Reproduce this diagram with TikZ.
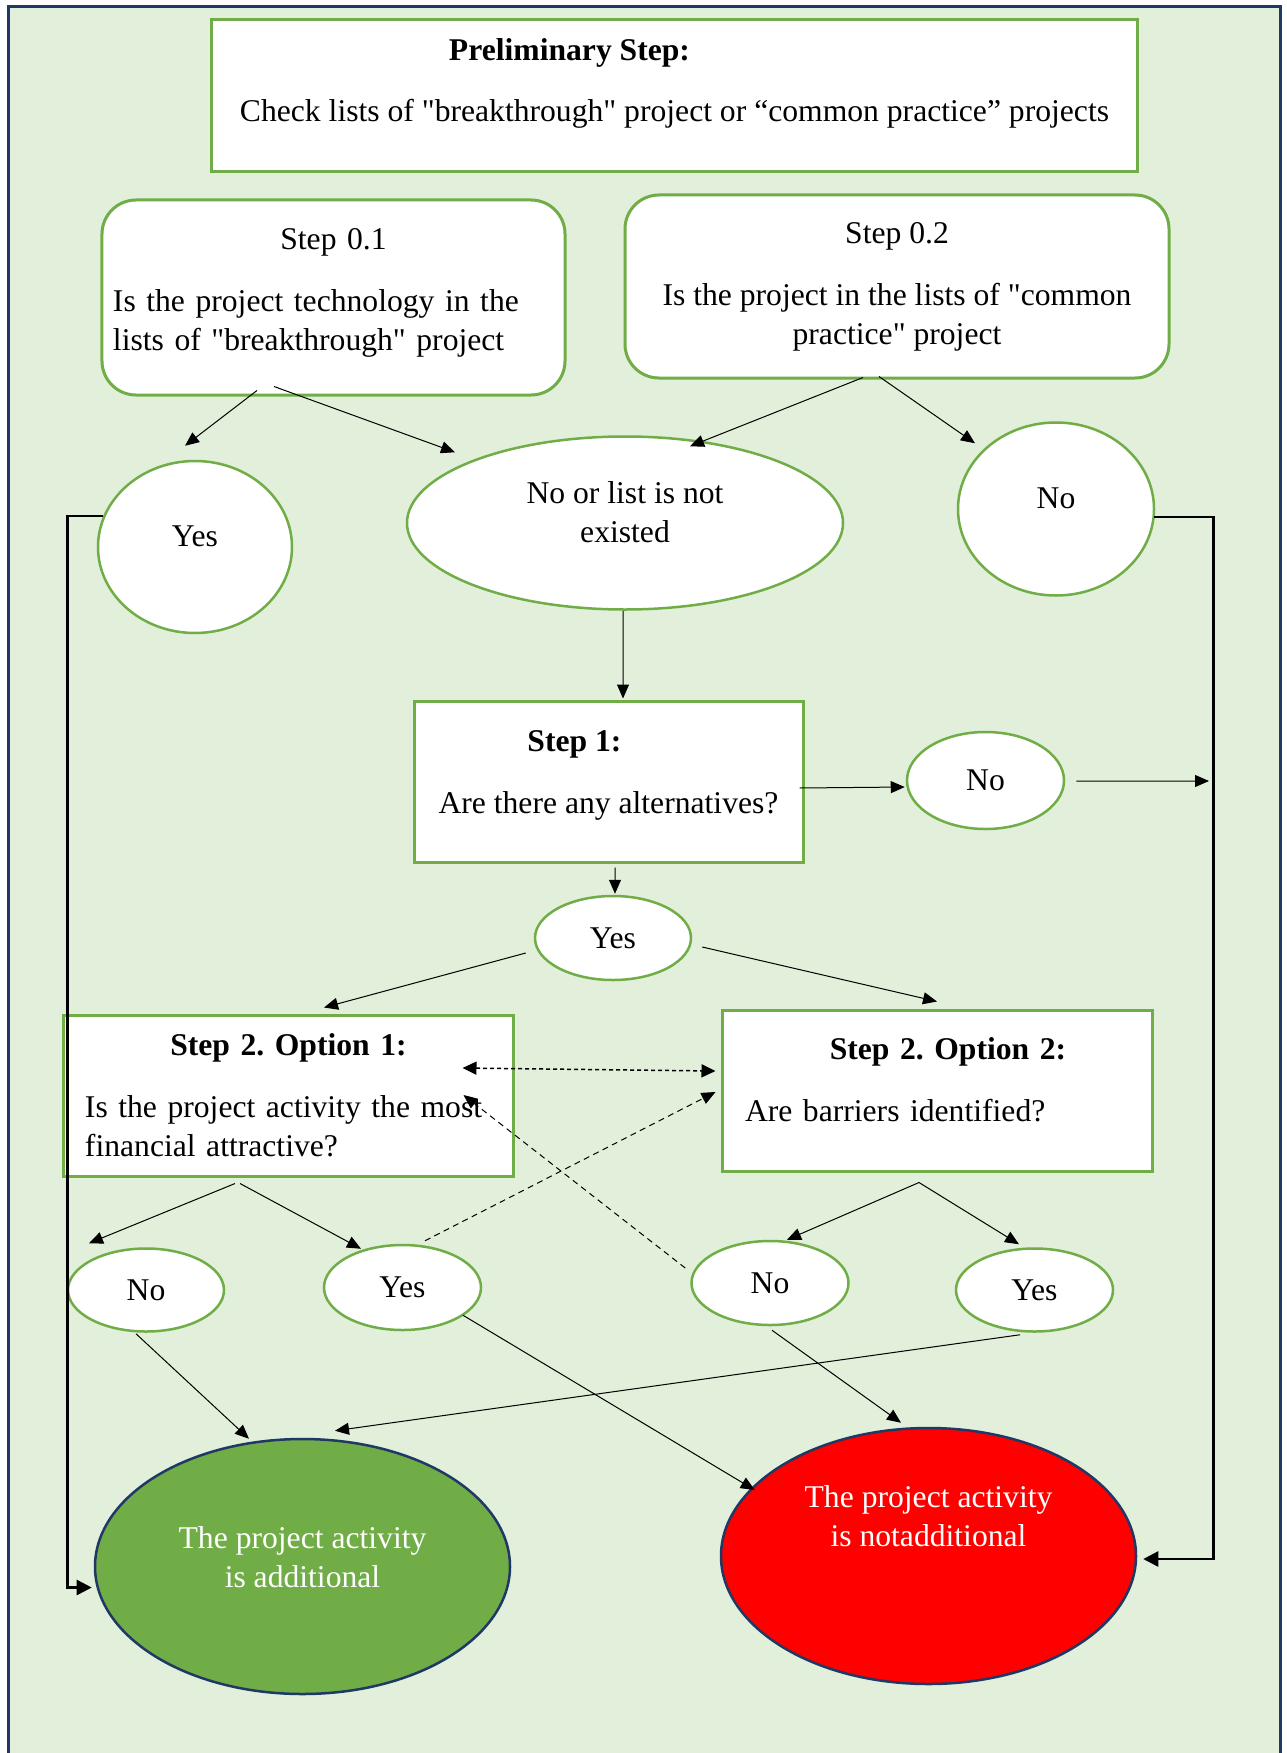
\documentclass[tikz,border=0pt]{standalone}
\usepackage{fontspec}
\setmainfont{Liberation Serif}[Ligatures=TeXOff]
\usetikzlibrary{arrows.meta,calc,shapes.geometric}
\definecolor{pagegreen}{RGB}{226,239,218}
\definecolor{framenavy}{RGB}{31,56,100}
\definecolor{boxgreen}{RGB}{112,173,71}
\definecolor{notred}{RGB}{255,0,0}
\newcommand{\sq}{\symbol{34}}

\begin{document}
\begin{tikzpicture}[x=0.2mm, y=-0.2mm, font=\fontsize{18}{22.2}\selectfont,
  greenbox/.style={draw=boxgreen, fill=white, line width=0.6mm, inner sep=0pt, align=center},
  roundbox/.style={greenbox, rounded corners=6.8mm},
  greenoval/.style={ellipse, draw=boxgreen, fill=white, line width=0.5mm, inner sep=0pt, align=center},
  endoval/.style={ellipse, draw=framenavy, line width=0.5mm, text=white, inner sep=0pt, align=center},
  flowarrow/.style={-{Triangle[length=2.8mm,width=2.4mm]}, line width=0.2mm},
  dasharrow/.style={flowarrow, dash pattern=on 1.2mm off 0.9mm},
  dotarrow/.style={{Triangle[length=2.8mm,width=2.6mm]}-{Triangle[length=2.8mm,width=2.6mm]}, line width=0.3mm, dash pattern=on 0.8mm off 0.6mm},
  looparrow/.style={-{Triangle[length=3mm,width=3mm]}, line width=0.5mm}]

\useasboundingbox (0,0) rectangle (1286,1753);
\fill[white] (0,0) rectangle (1286,1753);
\fill[pagegreen] (8.5,6.5) rectangle (1280.5,1753);
\draw[framenavy, line width=0.5mm] (8.5,1753) -- (8.5,6.5) -- (1280.5,6.5) -- (1280.5,1753);

% boxes
\node[greenbox, minimum width=185mm, minimum height=30.2mm] (prelim) at (674.5,95.5) {\textbf{Preliminary Step:}\hspace*{42mm}\mbox{}\\[12.5pt]Check lists of \sq breakthrough\sq\ project or “common practice” projects\\[-4.6pt]\mbox{}};
\node[roundbox, minimum width=92.6mm, minimum height=39mm, text width=88.2mm, inner xsep=2.2mm, align=left] (s01) at (333.5,297.5) {\makebox[88.2mm]{Step 0.1}\\[13pt]\makebox[84.4mm][s]{Is the project technology in the}\\lists of \sq breakthrough\sq\ project\\[-13pt]\mbox{}};
\node[roundbox, minimum width=108.8mm, minimum height=36.6mm] (s02) at (897,286.5) {Step 0.2\\[13pt]Is the project in the lists of \sq common\\practice\sq\ project};
\node[greenbox, minimum width=77.8mm, minimum height=32.2mm] (step1) at (608.5,781.5) {\textbf{Step 1:}\hspace*{13.6mm}\mbox{}\\[13pt]Are there any alternatives?\\[-11pt]\mbox{}};
\node[greenbox, minimum width=89.8mm, minimum height=32.2mm, text width=81.4mm, inner xsep=4.2mm, align=left] (opt1) at (288.5,1095.5) {\makebox[81.4mm]{\textbf{Step 2.\ Option 1:}}\\[13pt]\makebox[81.4mm][s]{Is the project activity the most}\\financial attractive?};
\node[greenbox, minimum width=86mm, minimum height=32.2mm, text width=76.8mm, inner xsep=4.6mm, align=left] (opt2) at (937,1090.5) {\makebox[76.8mm]{\hspace*{4.4mm}\textbf{Step 2.\ Option 2:}}\\[13pt]Are barriers identified?\\[-10pt]\mbox{}};

% answers
\node[greenoval, minimum width=38.8mm, minimum height=34.4mm] (yes0) at (195,547) {Yes\\[-10pt]\mbox{}};
\node[greenoval, minimum width=87.2mm, minimum height=34.6mm] (nolist) at (625,523) {No or list is not\\existed\\[-10pt]\mbox{}};
\node[greenoval, minimum width=39.2mm, minimum height=34.6mm] (noR) at (1056,509) {No\\[-10pt]\mbox{}};
\node[greenoval, minimum width=31.4mm, minimum height=19.4mm] (noS1) at (985.5,780.5) {No};
\node[greenoval, minimum width=31.2mm, minimum height=16.8mm] (yesS1) at (613,938) {Yes};
\node[greenoval, minimum width=31.2mm, minimum height=16.6mm] (noA) at (146,1290) {No};
\node[greenoval, minimum width=31.4mm, minimum height=17mm] (yesA) at (402.5,1287.5) {Yes};
\node[greenoval, minimum width=31.4mm, minimum height=16.8mm] (noB) at (770,1283) {No};
\node[greenoval, minimum width=31.4mm, minimum height=16.6mm] (yesB) at (1034.5,1290) {Yes};

% results
\node[endoval, fill=boxgreen, minimum width=83mm, minimum height=51mm] (addl) at (302.5,1566.5) {The project activity\\is additional\\[-11pt]\mbox{}};
\node[endoval, fill=notred, minimum width=83mm, minimum height=51.2mm] (notaddl) at (928.5,1556) {The project activity\\is notadditional\\[23pt]\mbox{}};

\coordinate (rjoin) at (1209,781);

% connectors
\draw[flowarrow] ($(s01.south)+(-76.5,-6)$) -- ($(yes0.north)+(-10,-14)$);
\draw[flowarrow] ($(s01.south)+(-59.5,-10)$) -- ($(nolist.north)+(-170,17)$);
\draw[flowarrow] ($(s02.south)+(-34,-2)$) -- ($(nolist.north)+(65,11)$);
\draw[flowarrow] ($(s02.south)+(-18,-3)$) -- ($(noR.north)+(-81,22)$);
\draw[flowarrow] ($(nolist.south)+(-2,0)$) -- ($(step1.north)+(14.5,-1)$);
\draw[flowarrow] ($(step1.east)+(-5,6.5)$) -- ($(noS1.west)+(-1,6.5)$);
\draw[flowarrow] ($(noS1.east)+(11,0.5)$) -- (rjoin);
\draw[flowarrow] ($(step1.south)+(6.5,4)$) -- ($(yesS1.north)+(2,-1)$);
\draw[flowarrow] ($(yesS1.west)+(-8,15)$) -- ($(opt1.north)+(35.5,-6)$);
\draw[flowarrow] ($(yesS1.east)+(10,9)$) -- ($(opt2.north)+(0,-7)$);
\draw[flowarrow] ($(opt1.south)+(-53.5,6)$) -- ($(noA.north)+(-57,-4)$);
\draw[flowarrow] ($(opt1.south)+(-48.5,6)$) -- ($(yesA.north)+(-41.5,5)$);
\draw[flowarrow] ($(opt2.south)+(-18,10)$) -- ($(noB.north)+(17,0)$);
\draw[flowarrow] ($(opt2.south)+(-18,10)$) -- ($(yesB.north)+(-15.5,-3)$);
\draw[flowarrow] ($(noA.south)+(-10,1)$) -- ($(addl.north)+(-53.5,1)$);
\draw[flowarrow] ($(yesA.south)+(60.5,-16)$) -- ($(notaddl.west)+(35,-66)$);
\draw[flowarrow] ($(noB.south)+(2,4)$) -- ($(notaddl.north)+(-27.5,-4)$);
\draw[flowarrow] ($(yesB.south)+(-14.5,2)$) -- ($(addl.north)+(32.5,-7)$);

\draw[dotarrow] ($(opt1.east)+(-52,-27.5)$) -- ($(opt2.west)+(-5,-19.5)$);
\draw[dasharrow] ($(yesA.north)+(22.5,-3)$) -- ($(opt2.west)+(-5,1.5)$);
\draw[dasharrow] ($(noB.west)+(-5,-15)$) -- ($(opt1.east)+(-51,-0.5)$);

\draw[looparrow] ($(yes0.west)+(6,-31)$) -- ++(-35,0) |- ($(addl.west)+(-2,21)$);
\draw[looparrow] ($(noR.east)+(-1,8)$) -| ($(notaddl.east)+(76,3)$) -- ($(notaddl.east)+(6,3)$);
\end{tikzpicture}
\end{document}
